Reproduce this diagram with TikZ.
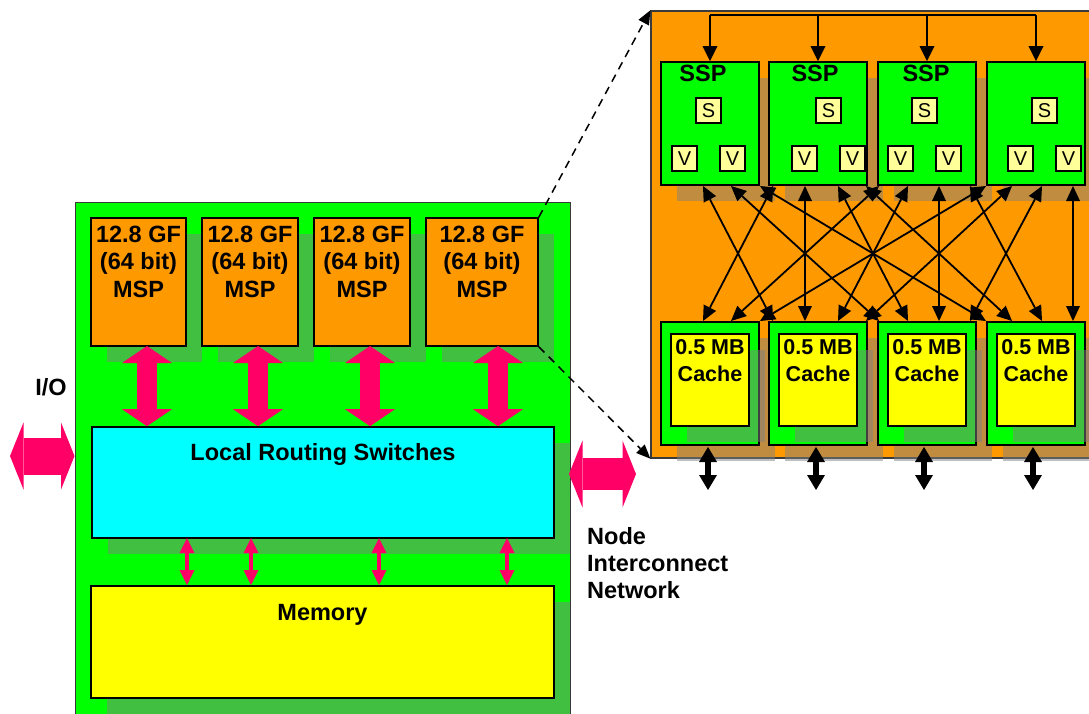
\documentclass[tikz,border=0pt]{standalone}
\usepackage{fontspec}
\setmainfont{Liberation Sans}
\usetikzlibrary{arrows.meta,shadows}
\definecolor{gr}{HTML}{00FF00}
\definecolor{org}{HTML}{FF9900}
\definecolor{cy}{HTML}{00FFFF}
\definecolor{ye}{HTML}{FFFF00}
\definecolor{lye}{HTML}{FFFF99}
\definecolor{pk}{HTML}{FF0066}
\definecolor{shc}{HTML}{808080}
\definecolor{bord}{HTML}{3A3A3A}
\begin{document}
\begin{tikzpicture}[x=1pt,y=-1pt,
  shadowed/.style={drop shadow={shadow xshift=16pt,shadow yshift=-16pt,fill=shc,opacity=0.5}},
  boxst/.style={draw=black,line width=1.6pt,inner sep=0pt},
  svbox/.style={draw=black,line width=1.3pt,fill=lye,inner sep=0pt,minimum size=25pt,font=\fontsize{20}{20}\selectfont},
  bigtxt/.style={font=\fontsize{23.5}{28}\selectfont\bfseries,inner sep=0pt,anchor=base},
  midtxt/.style={font=\fontsize{21.5}{26}\selectfont\bfseries,inner sep=0pt,anchor=base},
  bigpink/.style={draw=pk,line width=20pt,{Triangle[length=17pt,width=50pt,line width=0pt]}-{Triangle[length=17pt,width=50pt,line width=0pt]}},
  smallpink/.style={draw=pk,line width=4pt,{Triangle[length=15pt,width=15pt,line width=0pt]}-{Triangle[length=15pt,width=15pt,line width=0pt]}},
  ioarrow/.style={draw=pk,line width=#1,{Triangle[length=13.5pt,width=67pt,line width=0pt]}-{Triangle[length=13.5pt,width=67pt,line width=0pt]}},
  blackdbl/.style={draw=black,line width=6pt,{Triangle[length=15pt,width=18pt,line width=0pt]}-{Triangle[length=15pt,width=18pt,line width=0pt]}},
  xbar/.style={draw=black,line width=1.8pt,{Triangle[length=15pt,width=14pt,line width=0pt]}-{Triangle[length=15pt,width=14pt,line width=0pt]}},
  busline/.style={draw=black,line width=1.8pt},
  busarrow/.style={draw=black,line width=1.8pt,-{Triangle[length=15pt,width=15pt,line width=0pt]}},
  dasharrow/.style={draw=black,line width=1.5pt,dash pattern=on 8pt off 6pt,-{Triangle[length=14pt,width=12pt,line width=0pt]}}
]
\useasboundingbox (0,0) rectangle (1089,713);
\clip (0,0) rectangle (1089,713);

% ---------------- left: node board ----------------
\node[draw=bord,line width=1pt,fill=gr,inner sep=0pt,minimum width=495pt,minimum height=540pt] (board) at (322.5,472) {};

\foreach \n/\cx/\w in {1/138.5/95,2/250/96,3/362/96,4/482/112}{
  \node[boxst,fill=org,shadowed,minimum width=\w pt,minimum height=128pt] (msp\n) at (\cx,282) {};
  \node[bigtxt] (msp\n-a) at (\cx,242) {12.8 GF};
  \node[bigtxt] (msp\n-b) at (\cx,269.5) {(64 bit)};
  \node[bigtxt] (msp\n-c) at (\cx,297) {MSP};
}

\node[boxst,fill=cy,shadowed,minimum width=462pt,minimum height=111pt] (sw) at (323,482.5) {};
\node[bigtxt] (swtext) at (323,460) {Local Routing Switches};

\node[boxst,fill=ye,shadowed,minimum width=463pt,minimum height=112pt] (mem) at (322.5,642) {};
\node[bigtxt] (memtext) at (322.5,620) {Memory};

% big pink arrows MSP <-> switches
\foreach \n/\x in {1/147,2/258,3/370,4/498}{
  \coordinate (pa\n) at (\x,346);
  \draw[bigpink] (pa\n) -- (pa\n |- sw.north);
}
% small pink arrows switches <-> memory
\foreach \n/\x in {1/187,2/251,3/379,4/507}{
  \coordinate (pm\n) at (\x,538);
  \draw[smallpink] (pm\n) -- (pm\n |- mem.north);
}

% I/O arrow
\coordinate (iol) at (10,456);
\draw[ioarrow=37pt] (iol) -- (iol -| board.west);
\node[bigtxt] (iotext) at (51,395) {I/O};

% network arrow
\coordinate (netl) at (569,474);
\coordinate (netr) at (636,474);
\draw[ioarrow=32pt] (netl) -- (netr);
\node[bigtxt,anchor=base west] (net1) at (587,544) {Node};
\node[bigtxt,anchor=base west] (net2) at (587,571) {Interconnect};
\node[bigtxt,anchor=base west] (net3) at (587,598) {Network};

% ---------------- right: MSP detail ----------------
\node[draw=bord,line width=1.3pt,fill=org,inner sep=0pt,minimum width=449pt,minimum height=447pt] (msp) at (875.5,234.5) {};

\foreach \n/\l in {1/661,2/769,3/878,4/987}{
  \node[boxst,fill=gr,shadowed,minimum width=98pt,minimum height=123pt] (ssp\n) at (\l+49,123.5) {};
  \node[boxst,fill=gr,shadowed,minimum width=98pt,minimum height=123pt] (cg\n) at (\l+49,383.5) {};
  \node[boxst,fill=ye,shadowed,minimum width=78pt,minimum height=92pt] (cy\n) at (\l+49,380) {};
  \node[midtxt] (cyt\n a) at (\l+49,354) {0.5 MB};
  \node[midtxt] (cyt\n b) at (\l+49,381) {Cache};
}
\foreach \n/\x in {1/703,2/815,3/926}{
  \node[bigtxt] (sspt\n) at (\x,81) {SSP};
}
\foreach \n/\x in {1/708.5,2/828.5,3/924.5,4/1044.5}{
  \node[svbox] (s\n) at (\x,110.5) {S};
}
\foreach \n/\x in {1/684.5,2/732.5,3/804.5,4/852.5,5/900.5,6/948.5,7/1020.5,8/1068.5}{
  \node[svbox] (v\n) at (\x,158.5) {V};
}

% top bus
\coordinate (busy) at (0,15);
\draw[busline] (ssp1.north |- busy) -- (ssp4.north |- busy);
\foreach \n in {1,2,3,4}{
  \draw[busarrow] (ssp\n.north |- busy) -- (ssp\n.north);
}

% crossbar
\foreach \x in {703,731,760,773,805,838,866,879,908,939,970,986,1012,1042,1073}{
  \coordinate (up\x) at (\x,186);
  \coordinate (dn\x) at (\x,321);
}
\foreach \a/\b in {703/773,773/703,731/879,879/731,805/805,760/986,986/760,838/908,908/838,866/1012,1012/866,939/939,970/1042,1042/970,1073/1073}{
  \draw[xbar] (up\a) -- (dn\b);
}

% black arrows below caches
\foreach \n/\x in {1/708,2/816,3/924,4/1033}{
  \coordinate (bt\n) at (\x,447);
  \coordinate (bb\n) at (\x,490);
  \draw[blackdbl] (bt\n) -- (bb\n);
}

% dashed zoom lines
\draw[dasharrow] (msp4.north east) -- (msp.north west);
\draw[dasharrow] (msp4.south east) -- (msp.south west);
\end{tikzpicture}
\end{document}
